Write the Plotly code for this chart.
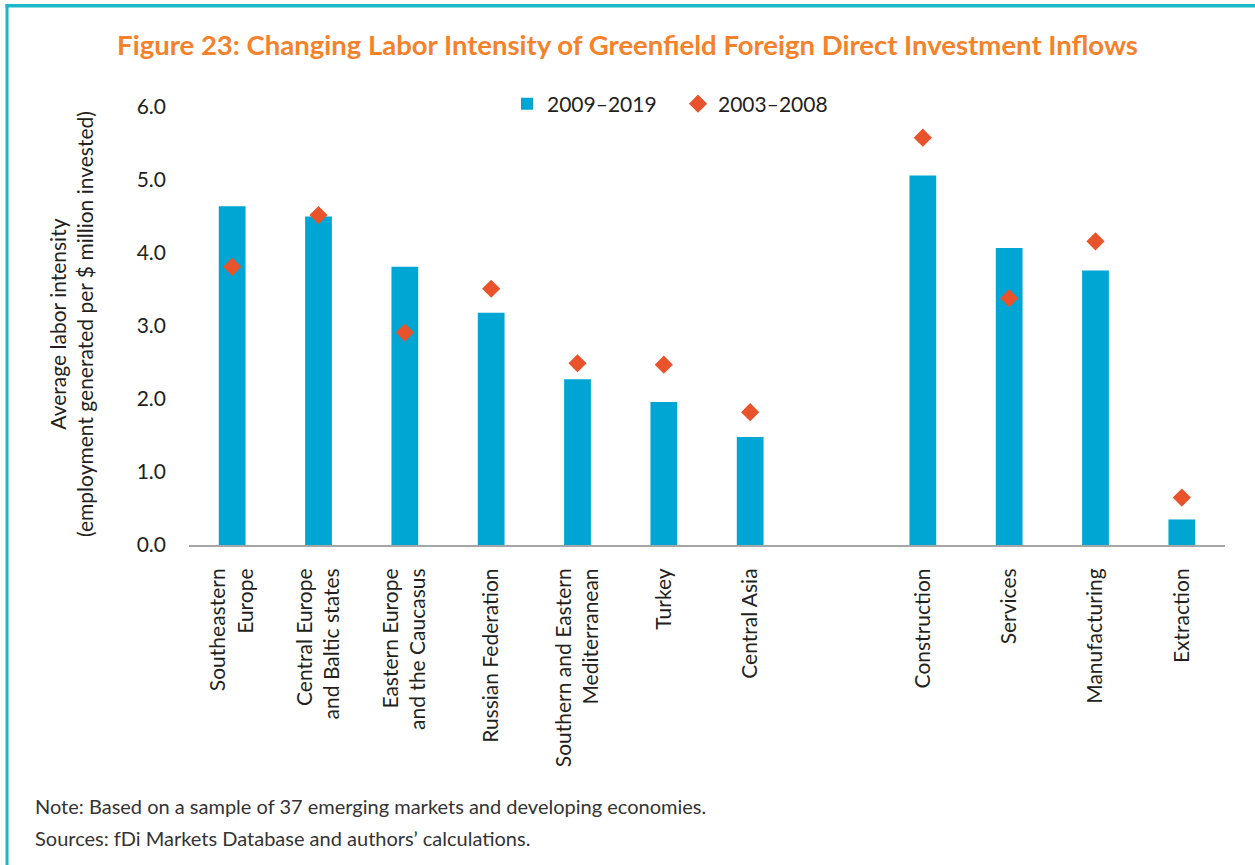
import plotly.graph_objects as go

categories = [
    "Southeastern<br>Europe",
    "Central Europe<br>and Baltic states",
    "Eastern Europe<br>and the Caucasus",
    "Russian Federation",
    "Southern and Eastern<br>Mediterranean",
    "Turkey",
    "Central Asia",
    " ",
    "Construction",
    "Services",
    "Manufacturing",
    "Extraction",
]
values_2009_2019 = [4.64, 4.50, 3.81, 3.18, 2.27, 1.96, 1.48, None, 5.06, 4.07, 3.76, 0.35]
values_2003_2008 = [3.81, 4.52, 2.91, 3.51, 2.49, 2.47, 1.82, None, 5.58, 3.38, 4.16, 0.65]
y_ticks = [0, 1, 2, 3, 4, 5, 6]

W, H = 1255, 865
L, R, T, B = 189, 30, 107, 320
pw, ph = W - L - R, H - T - B


def px_x(p):
    return (p - L) / pw


def px_y(p):
    return (H - B - p) / ph


FONT = "Lato"
TXT = "#231f20"

fig = go.Figure()
fig.add_trace(go.Bar(
    x=categories, y=values_2009_2019, name="2009–2019",
    marker=dict(color="#00a6d3", line=dict(width=0)),
    width=0.31,
))
fig.add_trace(go.Scatter(
    x=categories, y=values_2003_2008, name="2003–2008", mode="markers",
    marker=dict(symbol="diamond", size=14, color="#e8532b"),
))

fig.update_layout(
    width=W, height=H,
    margin=dict(l=L, r=R, t=T, b=B),
    paper_bgcolor="white", plot_bgcolor="white",
    font=dict(family=FONT, size=21, color=TXT),
    title=dict(
        text="<b>Figure 23: Changing Labor Intensity of Greenfield Foreign Direct Investment Inflows</b>",
        x=0.5, xanchor="center", y=1 - 45 / H, yanchor="middle",
        font=dict(family=FONT, size=27.5, color="#f5822a"),
    ),
    showlegend=True,
    legend=dict(
        orientation="h", x=px_x(507), xanchor="left", y=px_y(104), yanchor="middle",
        font=dict(family=FONT, size=21, color=TXT), bgcolor="rgba(0,0,0,0)",
        traceorder="normal", itemwidth=30, entrywidth=126,
    ),
    bargap=0.69,
)
fig.update_xaxes(
    type="category", categoryorder="array", categoryarray=categories,
    range=[-0.5, len(categories) - 0.5],
    showline=True, linecolor="#a6a6a6", linewidth=2, showgrid=False,
    ticks="", tickangle=-90, ticklabelstandoff=13,
    tickfont=dict(family=FONT, size=21, color=TXT),
    zeroline=False,
)
fig.update_yaxes(
    range=[0, 6], tickvals=y_ticks, tickformat=".1f",
    showgrid=False, showline=False, zeroline=False, ticks="",
    ticklabelstandoff=22,
    tickfont=dict(family=FONT, size=21, color=TXT),
)

fig.add_annotation(
    text="Average labor intensity<br>(employment generated per $ million invested)",
    xref="paper", yref="paper", x=px_x(71), y=px_y(324),
    xanchor="center", yanchor="middle", textangle=-90, showarrow=False,
    font=dict(family=FONT, size=21, color=TXT),
)
fig.add_annotation(
    text="Note: Based on a sample of 37 emerging markets and developing economies.",
    xref="paper", yref="paper", x=px_x(33), y=px_y(806),
    xanchor="left", yanchor="middle", showarrow=False,
    font=dict(family=FONT, size=20, color="#333333"),
)
fig.add_annotation(
    text="Sources: fDi Markets Database and authors’ calculations.",
    xref="paper", yref="paper", x=px_x(33), y=px_y(838),
    xanchor="left", yanchor="middle", showarrow=False,
    font=dict(family=FONT, size=20, color="#333333"),
)

border = "#1ab8c8"
fig.add_shape(type="rect", xref="paper", yref="paper", layer="above",
              x0=px_x(5.5), x1=px_x(W + 5), y0=px_y(7.5), y1=px_y(4),
              fillcolor=border, line=dict(width=0))
fig.add_shape(type="rect", xref="paper", yref="paper", layer="above",
              x0=px_x(5.5), x1=px_x(8.5), y0=px_y(4), y1=px_y(H + 5),
              fillcolor=border, line=dict(width=0))

fig.write_html(
    "out.html",
    config={"displayModeBar": False},
    post_script="document.body.style.margin='0';document.body.style.overflow='hidden';",
)
